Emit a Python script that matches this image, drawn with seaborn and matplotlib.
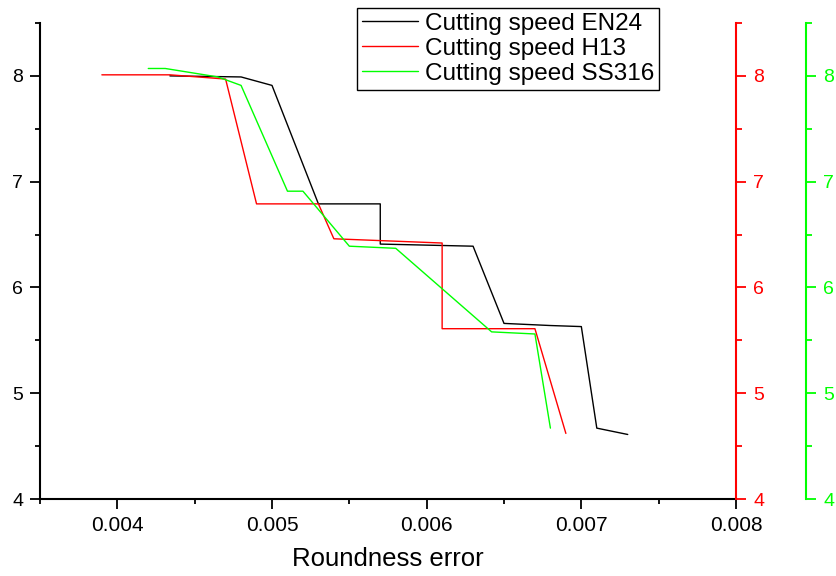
import matplotlib
matplotlib.use("Agg")
import matplotlib.pyplot as plt
from matplotlib.ticker import MultipleLocator, FormatStrFormatter
import seaborn as sns
import pandas as pd

# ---- data ----
en24_x = [0.00434, 0.0048, 0.0050, 0.0053, 0.0057, 0.0057, 0.0063, 0.0065, 0.0068, 0.0070, 0.0071, 0.0073]
en24_y = [8.00, 7.99, 7.91, 6.79, 6.79, 6.41, 6.39, 5.66, 5.64, 5.63, 4.67, 4.61]

h13_x = [0.0039, 0.00434, 0.0047, 0.0049, 0.0053, 0.0054, 0.0061, 0.0061, 0.0067, 0.0069]
h13_y = [8.01, 8.01, 7.97, 6.79, 6.79, 6.46, 6.42, 5.61, 5.61, 4.62]

ss316_x = [0.0042, 0.00431, 0.00465, 0.0048, 0.0051, 0.0052, 0.0055, 0.0058, 0.00642, 0.0067, 0.0068]
ss316_y = [8.07, 8.07, 7.99, 7.91, 6.91, 6.91, 6.39, 6.37, 5.58, 5.56, 4.67]

labels = ["Cutting speed EN24", "Cutting speed H13", "Cutting speed SS316"]
colors = ["black", "#FF0000", "#00FF00"]
x_ticks = [0.004, 0.005, 0.006, 0.007, 0.008]
y_ticks = [4, 5, 6, 7, 8]

sns.set_theme(style="ticks")
plt.rcParams["font.family"] = ["Liberation Sans", "DejaVu Sans"]
plt.rcParams.update({"text.color": "black", "axes.labelcolor": "black",
                     "xtick.color": "black", "ytick.color": "black"})

W, H = 836, 576
fig = plt.figure(figsize=(W / 100, H / 100), dpi=100)
left, right, bottom, top = 40, 736, 499, 23
ax = fig.add_axes([left / W, 1 - bottom / H, (right - left) / W, (bottom - top) / H])
ax2 = ax.twinx()
ax3 = ax.twinx()

series = [(ax, en24_x, en24_y), (ax2, h13_x, h13_y), (ax3, ss316_x, ss316_y)]
handles = []
for (a, xs, ys), lab, col in zip(series, labels, colors):
    df = pd.DataFrame({"x": xs, "y": ys})
    sns.lineplot(data=df, x="x", y="y", ax=a, sort=False, estimator=None,
                 color=col, lw=1.0, label=lab)
    h, _ = a.get_legend_handles_labels()
    handles.append(h[0])
    if a.get_legend():
        a.get_legend().remove()
    a.set_ylim(4, 8.5)
    a.yaxis.set_major_locator(MultipleLocator(1))
    a.yaxis.set_minor_locator(MultipleLocator(0.5))
    a.set_ylabel("")

ax.set_xlim(0.0035, 0.008)
ax.set_xticks(x_ticks)
ax.xaxis.set_major_formatter(FormatStrFormatter("%.3f"))
ax.xaxis.set_minor_locator(MultipleLocator(0.0005))
ax.set_yticks(y_ticks)
ax.set_xlabel("Roundness error", fontsize=18.5, labelpad=9)

lw_sp = 1.5
for s in ["top", "right"]:
    ax.spines[s].set_visible(False)
for s in ["left", "bottom"]:
    ax.spines[s].set_linewidth(lw_sp)
    ax.spines[s].set_color("black")
ax.tick_params(axis="y", which="major", direction="out", length=7.2, width=1.3, labelsize=14, pad=5, colors="black")
ax.tick_params(axis="y", which="minor", direction="out", length=3.6, width=1.3)
ax.tick_params(axis="x", which="major", direction="out", length=7.2, width=1.3, labelsize=15, pad=5, colors="black")
ax.tick_params(axis="x", which="minor", direction="out", length=3.6, width=1.3)

ax3.spines["right"].set_position(("axes", 1 + 70 / (right - left)))
for a, col in [(ax2, colors[1]), (ax3, colors[2])]:
    for s in ["top", "left", "bottom"]:
        a.spines[s].set_visible(False)
    a.spines["right"].set_color(col)
    a.spines["right"].set_linewidth(lw_sp)
    a.set_yticks(y_ticks)
    a.tick_params(axis="y", which="major", direction="out", length=7.5, width=1.3,
                  labelsize=14, pad=5, colors=col)
    a.tick_params(axis="y", which="minor", direction="out", length=4, width=1.3, colors=col)

leg = fig.legend(handles, labels, loc="upper left", bbox_to_anchor=(357 / W, 1 - 8 / H),
                 fontsize=17.5, frameon=True, fancybox=False, edgecolor="black",
                 handlelength=2.3, handletextpad=0.3, labelspacing=0.12,
                 borderpad=0.2, borderaxespad=0)
leg.get_frame().set_linewidth(1.0)
leg.get_frame().set_alpha(1)

fig.savefig("out.png", dpi=100)
